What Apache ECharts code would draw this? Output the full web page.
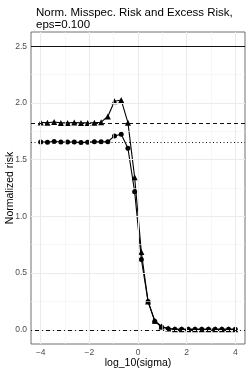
<!DOCTYPE html>
<html>
<head>
<meta charset="utf-8">
<script src="https://cdn.jsdelivr.net/npm/echarts@6/dist/echarts.min.js"></script>
<style>html,body{margin:0;padding:0;background:#fff}#c{width:249px;height:374px}</style>
</head>
<body>
<div id="c"></div>
<script>
const logSigma = [-4.000,-3.724,-3.448,-3.172,-2.897,-2.621,-2.345,-2.069,-1.793,-1.517,
  -1.241,-0.966,-0.690,-0.414,-0.138,0.138,0.414,0.690,0.966,1.241,
  1.517,1.793,2.069,2.345,2.621,2.897,3.172,3.448,3.724,4.000];
const riskTriangle = [1.828,1.825,1.832,1.824,1.824,1.827,1.824,1.824,1.825,1.830,
  1.880,2.015,2.025,1.826,1.345,0.685,0.250,0.080,0.030,0.012,
  0.006,0.005,0.005,0.005,0.005,0.005,0.005,0.005,0.005,0.005];
const riskCircle = [1.656,1.654,1.660,1.656,1.656,1.656,1.650,1.654,1.658,1.658,
  1.658,1.709,1.724,1.600,1.218,0.620,0.250,0.075,0.025,0.010,
  0.005,0.004,0.004,0.004,0.004,0.004,0.004,0.004,0.004,0.004];
const refSolid = 2.5, refDashed = 1.82, refDotted = 1.654, refDotDash = 0.0;
const xTicks = [-4,-2,0,2,4];
const xMinor = [-3,-1,1,3];
const yTicks = [0,0.5,1,1.5,2,2.5];
const yMinor = [0.25,0.75,1.25,1.75,2.25];

const pts = ys => logSigma.map((x,i)=>[x,ys[i]]);
const gridLines = [];
xMinor.forEach(v=>gridLines.push({xAxis:v,lineStyle:{color:'#f2f2f2',width:0.6,type:'solid'}}));
yMinor.forEach(v=>gridLines.push({yAxis:v,lineStyle:{color:'#f2f2f2',width:0.6,type:'solid'}}));
xTicks.forEach(v=>gridLines.push({xAxis:v,lineStyle:{color:'#ebebeb',width:1.1,type:'solid'}}));
yTicks.forEach(v=>gridLines.push({yAxis:v,lineStyle:{color:'#ebebeb',width:1.1,type:'solid'}}));

const chart = echarts.init(document.getElementById('c'), null, {renderer:'canvas'});
chart.setOption({
  animation:false,
  backgroundColor:'#ffffff',
  title:{text:'Norm. Misspec. Risk and Excess Risk,\neps=0.100',left:31,top:2,
    textStyle:{fontFamily:'Liberation Sans',fontSize:11.5,fontWeight:'normal',color:'#000',lineHeight:12}},
  grid:{left:31,right:4,top:32,bottom:30,outerBoundsMode:'none',containLabel:false,
    show:true,borderColor:'#4d4d4d',borderWidth:0.8,backgroundColor:'#fff'},
  xAxis:{type:'value',min:-4.4,max:4.4,name:'log_10(sigma)',nameLocation:'middle',nameGap:14,nameMoveOverlap:false,
    nameTextStyle:{fontFamily:'Liberation Sans',fontSize:10.5,color:'#000'},
    axisLine:{show:false},
    axisTick:{show:true,length:3,customValues:xTicks,lineStyle:{color:'#333',width:0.8}},
    axisLabel:{customValues:xTicks,margin:4,fontFamily:'Liberation Sans',fontSize:8.5,color:'#4d4d4d',
      formatter:v=>String(v).replace('-','\u2212')},
    splitLine:{show:false}},
  yAxis:{type:'value',min:-0.125,max:2.625,name:'Normalized risk',nameLocation:'middle',nameGap:15,nameMoveOverlap:false,
    nameTextStyle:{fontFamily:'Liberation Sans',fontSize:10.5,color:'#000'},
    axisLine:{show:false},
    axisTick:{show:true,length:3,customValues:yTicks,lineStyle:{color:'#333',width:0.8}},
    axisLabel:{customValues:yTicks,margin:4,fontFamily:'Liberation Sans',fontSize:8.5,color:'#4d4d4d',
      formatter:v=>v.toFixed(1)},
    splitLine:{show:false}},
  series:[
    {type:'line',data:[],z:1,silent:true,
      markLine:{silent:true,symbol:'none',label:{show:false},animation:false,data:gridLines}},
    {type:'line',data:[],z:3,silent:true,
      markLine:{silent:true,symbol:'none',label:{show:false},animation:false,data:[
        {yAxis:refSolid,lineStyle:{color:'#111',width:1.1,type:'solid'}},
        {yAxis:refDashed,lineStyle:{color:'#111',width:1,type:[4,3]}},
        {yAxis:refDotted,lineStyle:{color:'#111',width:1,type:[1,2.5]}},
        {yAxis:refDotDash,lineStyle:{color:'#111',width:1,type:[1,3,4,3]}}
      ]}},
    {type:'line',data:pts(riskTriangle),z:4,symbol:'triangle',symbolSize:6,showAllSymbol:true,
      lineStyle:{color:'#000',width:1.1},itemStyle:{color:'#000',borderWidth:0}},
    {type:'line',data:pts(riskCircle),z:4,symbol:'circle',symbolSize:5,showAllSymbol:true,
      lineStyle:{color:'#000',width:1.1},itemStyle:{color:'#000',borderWidth:0}}
  ]
});
</script>
</body>
</html>
